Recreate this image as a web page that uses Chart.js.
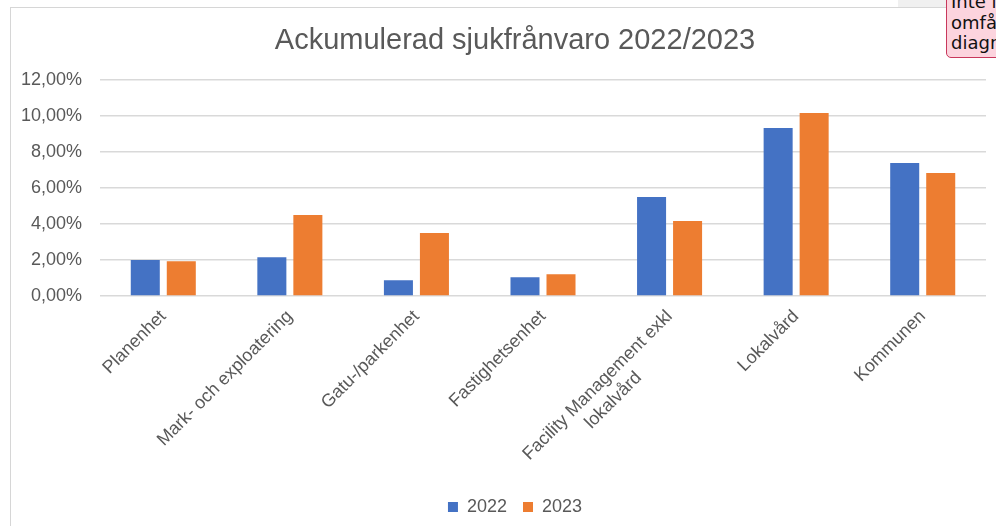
<!DOCTYPE html>
<html>
<head>
<meta charset="utf-8">
<script src="https://cdn.jsdelivr.net/npm/chart.js@4"></script>
<style>
    html, body { margin: 0; padding: 0; background: #fff; overflow: hidden; }
    body { width: 996px; height: 526px; position: relative; font-family: "Liberation Sans", Arial, sans-serif; }
    .frame { position: absolute; left: 10px; top: 7px; width: 1100px; height: 600px; border-left: 1px solid #d6d6d6; border-top: 1px solid #d6d6d6; }
    .strip { position: absolute; left: 898px; top: 0; width: 48px; height: 7px; background: #f0f0f0; }
    .note { position: absolute; left: 946px; top: -8px; width: 80px; height: 64px; background: #fcd4de; border: 1px solid #c8385c; border-radius: 5px; overflow: hidden; font-family: "DejaVu Sans", sans-serif; font-size: 18px; color: #111; line-height: 20px; }
    .note div { position: absolute; left: 4px; white-space: nowrap; }
    canvas { position: absolute; left: 12px; top: 9px; }
</style>
</head>
<body>
<div class="frame"></div>
<div class="strip"></div>
<div class="note"><div style="top:-1px">Inte i</div><div style="top:20px">omfång</div><div style="top:40px">diagram</div></div>
<canvas id="chart" width="984" height="517"></canvas>
<script>
const categories = ['Planenhet', 'Mark- och exploatering', 'Gatu-/parkenhet', 'Fastighetsenhet',
    ['Facility Management exkl', 'lokalvård'], 'Lokalvård', 'Kommunen']
const values2022 = [2.00, 2.15, 0.87, 1.04, 5.49, 9.33, 7.38]
const values2023 = [1.93, 4.49, 3.49, 1.21, 4.16, 10.16, 6.83]
const yTicks = [0, 2, 4, 6, 8, 10, 12]

const textColor = '#595959'
const labelFont = {family: '"Liberation Sans", Arial, sans-serif', size: 18}

const measure = document.createElement('canvas').getContext('2d')
measure.font = '18px "Liberation Sans", Arial, sans-serif'

// Excel centres the lines of a wrapped label; pad short lines with spaces to mimic that
function centreLines(label) {
    if (!Array.isArray(label)) return label
    const widest = Math.max(...label.map(l => measure.measureText(l).width))
    const space = measure.measureText(' ').width
    return label.map(l => l + ' '.repeat(Math.round((widest - measure.measureText(l).width) / 2 / space)))
}

const pct = (value) => value.toFixed(2).replace('.', ',') + '%'
const widestTick = Math.max(...yTicks.map(v => measure.measureText(pct(v)).width))

new Chart(document.getElementById('chart'), {
    type: 'bar',
    data: {
        labels: categories.map(centreLines),
        datasets: [{
            label: '2022',
            data: values2022,
            backgroundColor: '#4472C4',
            categoryPercentage: 0.569,
            barPercentage: 0.806
        }, {
            label: '2023',
            data: values2023,
            backgroundColor: '#ED7D31',
            categoryPercentage: 0.569,
            barPercentage: 0.806
        }]
    },
    options: {
        responsive: false,
        animation: false,
        layout: {padding: {left: 32, right: 10, top: 0, bottom: 0}},
        plugins: {
            title: {
                display: true,
                text: 'Ackumulerad sjukfrånvaro 2022/2023',
                color: textColor,
                font: {family: labelFont.family, size: 29, weight: 'normal'},
                padding: {top: 15, bottom: 21}
            },
            legend: {
                position: 'bottom',
                labels: {
                    color: textColor,
                    font: labelFont,
                    boxWidth: 10,
                    boxHeight: 10,
                    padding: 16
                }
            },
            tooltip: {enabled: false}
        },
        scales: {
            x: {
                grid: {display: false},
                border: {display: false},
                ticks: {
                    color: textColor,
                    font: labelFont,
                    minRotation: 45,
                    maxRotation: 45,
                    autoSkip: false,
                    padding: 2
                },
                afterFit: (scale) => { scale.height = 186 }
            },
            y: {
                min: 0,
                max: 12,
                border: {display: false},
                grid: {color: '#d9d9d9', lineWidth: 1.5, drawTicks: false},
                afterBuildTicks: (scale) => { scale.ticks = yTicks.map(v => ({value: v})) },
                ticks: {
                    color: textColor,
                    font: labelFont,
                    // mirrored so the labels are not clipped to the narrow axis box
                    mirror: true,
                    crossAlign: 'far',
                    padding: -18 - widestTick,
                    callback: pct
                },
                afterFit: (scale) => { scale.width = 56 }
            }
        }
    }
})
</script>
</body>
</html>
